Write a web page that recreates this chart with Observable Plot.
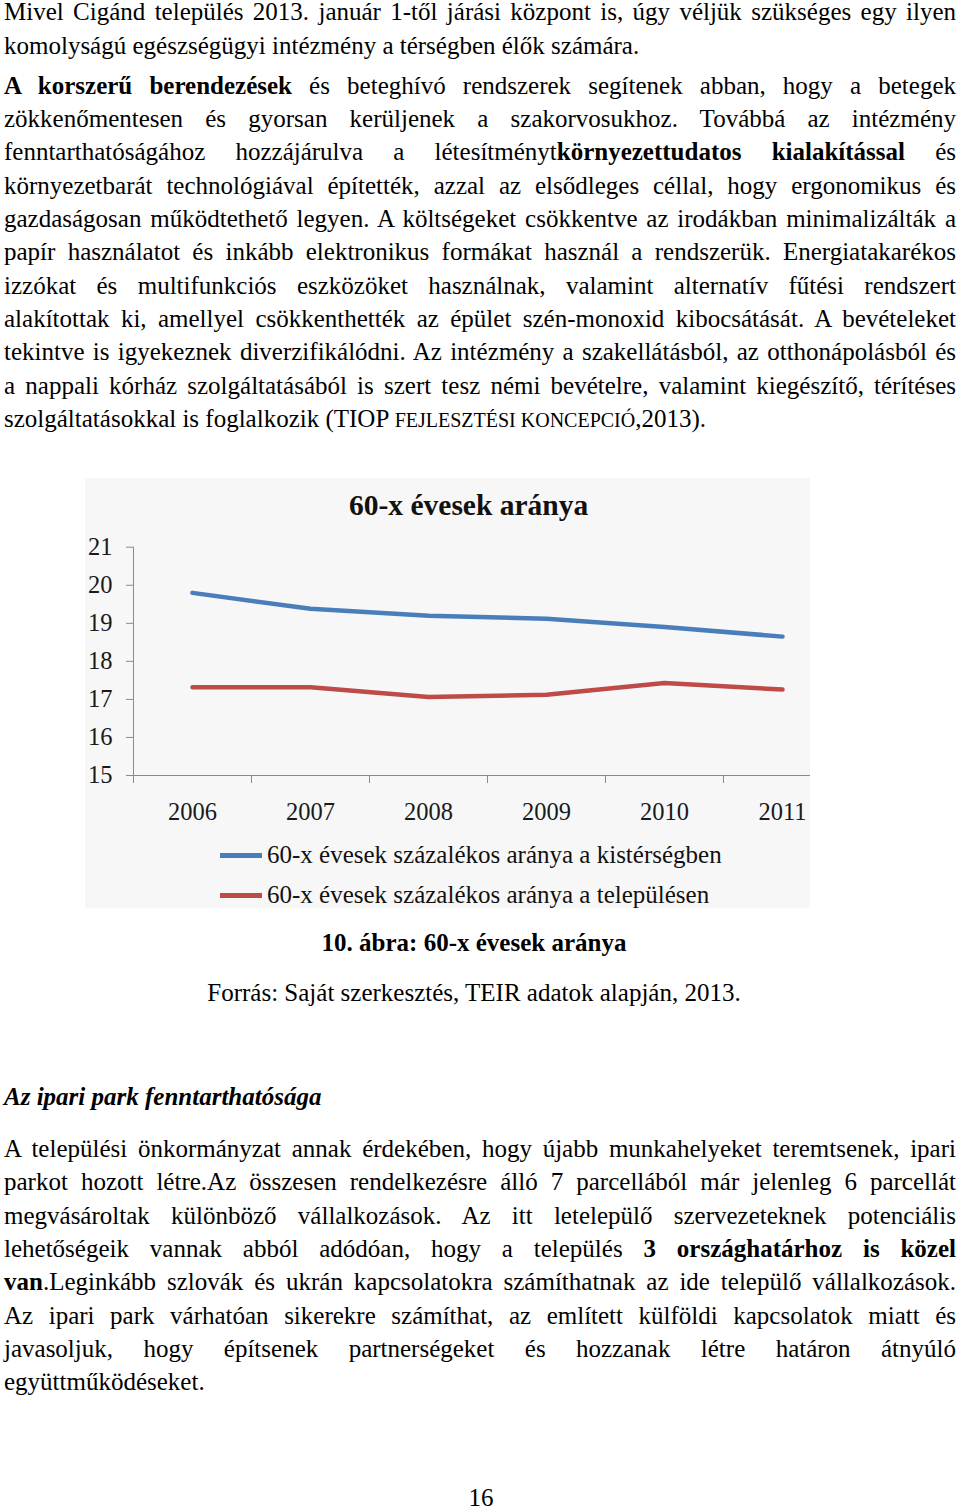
<!DOCTYPE html>
<html>
<head>
<meta charset="utf-8">
<script src="https://cdn.jsdelivr.net/npm/d3@7"></script>
<script src="https://cdn.jsdelivr.net/npm/@observablehq/plot@0.6"></script>
<style>
  html, body { margin: 0; padding: 0; background: #fff; }
  body { width: 960px; height: 1509px; position: relative; overflow: hidden;
         font-family: "Liberation Serif", "Times New Roman", serif; color: #000; }
  .para { position: absolute; left: 4px; width: 952px; font-size: 25px; line-height: 33.33px; }
  .para div { text-align: justify; text-align-last: justify; height: 33.33px; white-space: normal; }
  .para div.last { text-align: left; text-align-last: left; }
  .sc { font-size: 20px; }
  .center { position: absolute; left: 0; width: 948px; text-align: center; font-size: 25px; line-height: 33.33px; }
  #chartbox { position: absolute; left: 85px; top: 478px; width: 725px; height: 430px;
              background: #f7f7f7; overflow: hidden; }
  #ctitle { position: absolute; left: 264px; top: 12px; font-size: 29.5px; line-height: 30px;
            font-weight: bold; color: #111; white-space: nowrap; }
  #plot { position: absolute; left: 0; top: 52px; width: 725px; height: 300px; overflow: hidden; }
  .lg-swatch { position: absolute; left: 135px; width: 42px; height: 4.5px; }
  .lg-text { position: absolute; left: 182px; font-size: 25px; line-height: 30px; color: #111; white-space: nowrap; }
</style>
</head>
<body>
<div class="para" style="top:-4.8px">
  <div>Mivel Cigánd település 2013. január 1-től járási központ is, úgy véljük szükséges egy ilyen</div>
  <div class="last">komolyságú egészségügyi intézmény a térségben élők számára.</div>
</div>
<div class="para" style="top:68.6px">
  <div><b>A korszerű berendezések</b> és beteghívó rendszerek segítenek abban, hogy a betegek</div>
  <div>zökkenőmentesen és gyorsan kerüljenek a szakorvosukhoz. Továbbá az intézmény</div>
  <div>fenntarthatóságához hozzájárulva a létesítményt<b>környezettudatos kialakítással</b> és</div>
  <div>környezetbarát technológiával építették, azzal az elsődleges céllal, hogy ergonomikus és</div>
  <div>gazdaságosan működtethető legyen. A költségeket csökkentve az irodákban minimalizálták a</div>
  <div>papír használatot és inkább elektronikus formákat használ a rendszerük. Energiatakarékos</div>
  <div>izzókat és multifunkciós eszközöket használnak, valamint alternatív fűtési rendszert</div>
  <div>alakítottak ki, amellyel csökkenthették az épület szén-monoxid kibocsátását. A bevételeket</div>
  <div>tekintve is igyekeznek diverzifikálódni. Az intézmény a szakellátásból, az otthonápolásból és</div>
  <div>a nappali kórház szolgáltatásából is szert tesz némi bevételre, valamint kiegészítő, térítéses</div>
  <div class="last">szolgáltatásokkal is foglalkozik (TIOP <span class="sc">FEJLESZTÉSI KONCEPCIÓ</span>,2013).</div>
</div>

<div id="chartbox">
  <div id="ctitle">60-x évesek aránya</div>
  <div id="plot"></div>
  <div id="legend"></div>
</div>

<div class="center" style="top:926.4px;font-weight:bold">10. ábra: 60-x évesek aránya</div>
<div class="center" style="top:976px">Forrás: Saját szerkesztés, TEIR adatok alapján, 2013.</div>

<div class="para" style="top:1079.5px"><div class="last"><b><i>Az ipari park fenntarthatósága</i></b></div></div>
<div class="para" style="top:1132px">
  <div>A települési önkormányzat annak érdekében, hogy újabb munkahelyeket teremtsenek, ipari</div>
  <div>parkot hozott létre.Az összesen rendelkezésre álló 7 parcellából már jelenleg 6 parcellát</div>
  <div>megvásároltak különböző vállalkozások. Az itt letelepülő szervezeteknek potenciális</div>
  <div>lehetőségeik vannak abból adódóan, hogy a település <b>3 országhatárhoz is közel</b></div>
  <div><b>van</b>.Leginkább szlovák és ukrán kapcsolatokra számíthatnak az ide települő vállalkozások.</div>
  <div>Az ipari park várhatóan sikerekre számíthat, az említett külföldi kapcsolatok miatt és</div>
  <div>javasoljuk, hogy építsenek partnerségeket és hozzanak létre határon átnyúló</div>
  <div class="last">együttműködéseket.</div>
</div>

<div style="position:absolute;left:0;width:962px;top:1481px;text-align:center;font-size:25px;line-height:33.33px">16</div>

<script>
const years = [2006, 2007, 2008, 2009, 2010, 2011];
const seriesNames = [
  "60-x évesek százalékos aránya a kistérségben",
  "60-x évesek százalékos aránya a településen"
];
const kisterseg = [19.80, 19.38, 19.20, 19.12, 18.90, 18.65];
const telepules = [17.32, 17.32, 17.06, 17.12, 17.43, 17.26];
const seriesColors = ["#4A7EBB", "#BE4B48"];
const yTicks = [15, 16, 17, 18, 19, 20, 21];
const xBounds = [2005.5, 2006.5, 2007.5, 2008.5, 2009.5, 2010.5];

const rows = [];
years.forEach((yr, i) => {
  rows.push({year: yr, value: kisterseg[i], series: seriesNames[0]});
  rows.push({year: yr, value: telepules[i], series: seriesNames[1]});
});

const axisColor = "#8a8a8a";
const chart = Plot.plot({
  width: 725,
  height: 300,
  marginLeft: 48,
  marginRight: 0,
  marginTop: 16.7,
  marginBottom: 55,
  style: {fontFamily: "Liberation Serif, serif", fontSize: "24.5px", color: "#1a1a1a", background: "transparent", overflow: "hidden"},
  x: {type: "linear", domain: [2005.5, 2011.5], range: [48, 756], label: null},
  y: {domain: [15, 21], label: null},
  color: {domain: seriesNames, range: seriesColors},
  marks: [
    Plot.ruleX([2005.5], {y1: 15, y2: 21, stroke: axisColor, strokeWidth: 1}),
    Plot.ruleY([15], {x1: 2005.5, x2: 2011.5, stroke: axisColor, strokeWidth: 1}),
    Plot.axisY({ticks: yTicks, tickSize: 7, tickPadding: 14, stroke: axisColor, fill: "#1a1a1a", label: null, tickFormat: d => String(d)}),
    Plot.axisX({ticks: xBounds, tickSize: 8, tickFormat: () => "", label: null, stroke: axisColor}),
    Plot.axisX({ticks: years, tickSize: 0, tickPadding: 27, fill: "#1a1a1a", label: null, tickFormat: d => String(d)}),
    Plot.line(rows, {x: "year", y: "value", z: "series", stroke: "series", strokeWidth: 4.5, strokeLinejoin: "round", strokeLinecap: "round"})
  ]
});
document.getElementById("plot").appendChild(chart);

// Legend
const legend = document.getElementById("legend");
const swatchTops = [375, 415];
const textTops = [361.6, 401.6];
seriesNames.forEach((name, i) => {
  const sw = document.createElement("div");
  sw.className = "lg-swatch";
  sw.style.top = swatchTops[i] + "px";
  sw.style.background = seriesColors[i];
  legend.appendChild(sw);
  const tx = document.createElement("div");
  tx.className = "lg-text";
  tx.style.top = textTops[i] + "px";
  tx.textContent = name;
  legend.appendChild(tx);
});
</script>
</body>
</html>
